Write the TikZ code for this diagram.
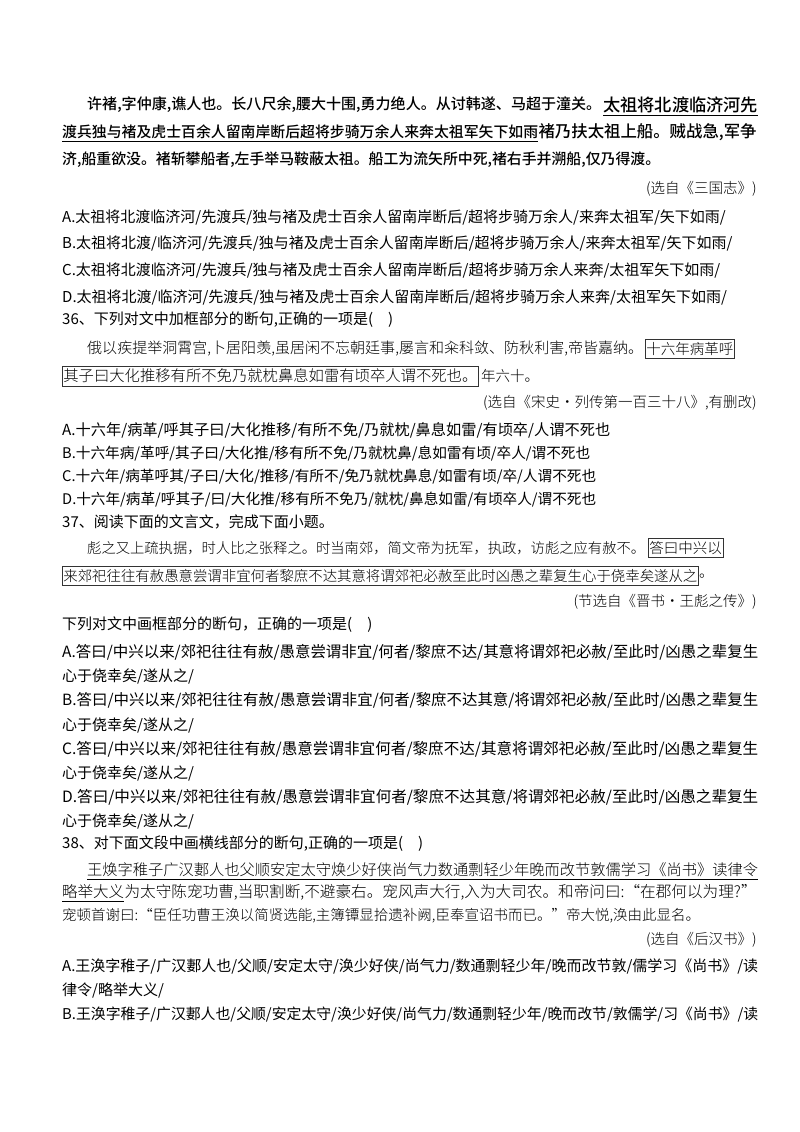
\documentclass[tikz,border=0pt]{standalone}
\usepackage{fontspec}
\newfontfamily\cjk{Noto Sans CJK SC}
\newfontfamily\cjkb{Noto Sans CJK SC Medium}
\newfontfamily\cjkl{Noto Sans CJK SC Light}
\newcommand{\fitw}[2]{\resizebox{#1pt}{!}{#2}}
\begin{document}
\begin{tikzpicture}[x=1pt,y=-1pt,
  txt/.style={anchor=west,inner sep=0pt,font=\cjk\fontsize{15}{16}\selectfont},
  pas/.style={anchor=west,inner sep=0pt,font=\cjkb\fontsize{15}{16}\selectfont},
  kai/.style={anchor=west,inner sep=0pt,font=\cjkl\fontsize{14.5}{16}\selectfont},
  src/.style={anchor=east,inner sep=0pt,font=\cjkl\fontsize{14.5}{16}\selectfont},
  boxed/.style={kai,draw=black!80,line width=0.8pt,inner xsep=1pt,inner ysep=3pt},
  uline/.style={draw=black,line width=0.8pt}]
\useasboundingbox[fill=white] (0,0) rectangle (800,1132);
% Q35 passage
\node[pas] (p1a) at (87,105) {\fitw{514}{许褚,字仲康,谯人也。长八尺余,腰大十围,勇力绝人。从讨韩遂、马超于潼关。}};
\node[pas] (p1b) at (603,105) {\fitw{155}{太祖将北渡临济河先}};
\node[pas] (p2a) at (62,132) {\fitw{476}{渡兵独与褚及虎士百余人留南岸断后超将步骑万余人来奔太祖军矢下如雨}};
\node[pas] (p2b) at (p2a.east) [anchor=west] {\fitw{218}{褚乃扶太祖上船。贼战急,军争}};
\node[pas] (p3) at (62,160) {\fitw{598}{济,船重欲没。褚斩攀船者,左手举马鞍蔽太祖。船工为流矢所中死,褚右手并溯船,仅乃得渡。}};
\draw[uline] ([yshift=-2pt]p1b.south west) -- ([yshift=-2pt]p1b.south east);
\draw[uline] ([yshift=-2pt]p2a.south west) -- ([yshift=-2pt]p2a.south east);
\node[src] (s1) at (757,189) {(选自《三国志》)};
\node[txt] (a35) at (62,217) {A.太祖将北渡临济河/先渡兵/独与褚及虎士百余人留南岸断后/超将步骑万余人/来奔太祖军/矢下如雨/};
\node[txt] (b35) at (62,243) {B.太祖将北渡/临济河/先渡兵/独与褚及虎士百余人留南岸断后/超将步骑万余人/来奔太祖军/矢下如雨/};
\node[txt] (c35) at (62,270) {C.太祖将北渡临济河/先渡兵/独与褚及虎士百余人留南岸断后/超将步骑万余人来奔/太祖军矢下如雨/};
\node[txt] (d35) at (62,297) {D.太祖将北渡/临济河/先渡兵/独与褚及虎士百余人留南岸断后/超将步骑万余人来奔/太祖军矢下如雨/};
% Q36
\node[txt] (q36) at (62,320) {36、下列对文中加框部分的断句,正确的一项是(\quad)};
\node[kai] (k1a) at (87,349) {\fitw{556}{俄以疾提举洞霄宫,卜居阳羡,虽居闲不忘朝廷事,屡言和籴科敛、防秋利害,帝皆嘉纳。}};
\node[boxed] (k1b) at (645,349) {十六年病革呼};
\node[boxed] (k2a) at (62,376) {\fitw{414}{其子曰大化推移有所不免乃就枕鼻息如雷有顷卒人谓不死也。}};
\node[kai] (k2b) at (k2a.east) [anchor=west,xshift=2pt] {年六十。};
\node[src] (s2) at (757,403) {(选自《宋史•列传第一百三十八》,有删改)};
\node[txt] (a36) at (62,430) {\fitw{548}{A.十六年/病革/呼其子曰/大化推移/有所不免/乃就枕/鼻息如雷/有顷卒/人谓不死也}};
\node[txt] (b36) at (62,454) {\fitw{528}{B.十六年病/革呼/其子曰/大化推/移有所不免/乃就枕鼻/息如雷有顷/卒人/谓不死也}};
\node[txt] (c36) at (62,477) {\fitw{534}{C.十六年/病革呼其/子曰/大化/推移/有所不/免乃就枕鼻息/如雷有顷/卒/人谓不死也}};
\node[txt] (d36) at (62,500) {\fitw{534}{D.十六年/病革/呼其子/曰/大化推/移有所不免乃/就枕/鼻息如雷/有顷卒人/谓不死也}};
% Q37
\node[txt] (q37) at (62,522) {37、阅读下面的文言文，完成下面小题。};
\node[kai] (k3a) at (87,548) {\fitw{558}{彪之又上疏执据，时人比之张释之。时当南郊，简文帝为抚军，执政，访彪之应有赦不。}};
\node[boxed] (k3b) at (648,548) {答曰中兴以};
\node[boxed] (k4a) at (62,576) {\fitw{634}{来郊祀往往有赦愚意尝谓非宜何者黎庶不达其意将谓郊祀必赦至此时凶愚之辈复生心于侥幸矣遂从之}};
\node[kai] (k4b) at (k4a.east) [anchor=west] {。};
\node[src] (s3) at (757,602) {(节选自《晋书·王彪之传》)};
\node[txt] (q37b) at (62,625) {下列对文中画框部分的断句，正确的一项是(\quad)};
\node[txt] (a37) at (62,652) {\fitw{696}{A.答曰/中兴以来/郊祀往往有赦/愚意尝谓非宜/何者/黎庶不达/其意将谓郊祀必赦/至此时/凶愚之辈复生}};
\node[txt] (a37b) at (62,676) {心于侥幸矣/遂从之/};
\node[txt] (b37) at (62,700) {\fitw{696}{B.答曰/中兴以来/郊祀往往有赦/愚意尝谓非宜/何者/黎庶不达其意/将谓郊祀必赦/至此时/凶愚之辈复生}};
\node[txt] (b37b) at (62,725) {心于侥幸矣/遂从之/};
\node[txt] (c37) at (62,749) {\fitw{696}{C.答曰/中兴以来/郊祀往往有赦/愚意尝谓非宜何者/黎庶不达/其意将谓郊祀必赦/至此时/凶愚之辈复生}};
\node[txt] (c37b) at (62,773) {心于侥幸矣/遂从之/};
\node[txt] (d37) at (62,797) {\fitw{696}{D.答曰/中兴以来/郊祀往往有赦/愚意尝谓非宜何者/黎庶不达其意/将谓郊祀必赦/至此时/凶愚之辈复生}};
\node[txt] (d37b) at (62,821) {心于侥幸矣/遂从之/};
% Q38
\node[txt] (q38) at (62,844) {38、对下面文段中画横线部分的断句,正确的一项是(\quad)};
\node[kai] (k5) at (87,870) {\fitw{671}{王焕字稚子广汉郪人也父顺安定太守焕少好侠尚气力数通剽轻少年晚而改节敦儒学习《尚书》读律令}};
\draw[uline] ([yshift=-2pt]k5.south west) -- ([yshift=-2pt]k5.south east);
\node[kai] (k6a) at (62,892) {\fitw{62}{略举大义}};
\node[kai] (k6b) at (k6a.east) [anchor=west] {\fitw{632}{为太守陈宠功曹,当职割断,不避豪右。宠风声大行,入为大司农。和帝问曰:“在郡何以为理?”}};
\draw[uline] ([yshift=-2pt]k6a.south west) -- ([yshift=-2pt]k6a.south east);
\node[kai] (k7) at (62,916) {宠顿首谢曰:“臣任功曹王涣以简贤选能,主簿镡显拾遗补阙,臣奉宣诏书而已。”帝大悦,涣由此显名。};
\node[src] (s4) at (757,940) {(选自《后汉书》)};
\node[txt] (a38) at (62,966) {\fitw{696}{A.王涣字稚子/广汉郪人也/父顺/安定太守/涣少好侠/尚气力/数通剽轻少年/晚而改节敦/儒学习《尚书》/读}};
\node[txt] (a38b) at (62,990) {律令/略举大义/};
\node[txt] (b38) at (62,1015) {\fitw{696}{B.王涣字稚子/广汉郪人也/父顺/安定太守/涣少好侠/尚气力/数通剽轻少年/晚而改节/敦儒学/习《尚书》/读}};
\end{tikzpicture}
\end{document}
